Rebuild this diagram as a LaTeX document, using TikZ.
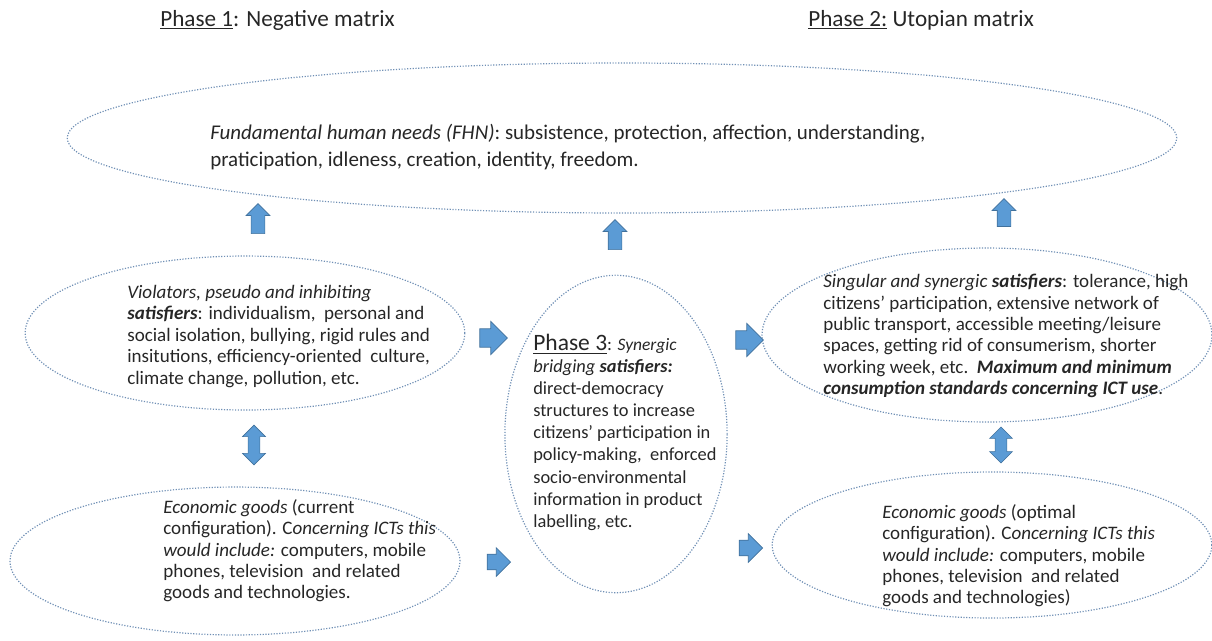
\documentclass[tikz,border=0pt]{standalone}
\usepackage{fontspec}
\setmainfont{Carlito}
\usetikzlibrary{shapes.geometric,shapes.arrows}
\definecolor{arrowblue}{HTML}{5B9BD5}
\definecolor{arrowedge}{HTML}{41719C}
\definecolor{rimblue}{HTML}{7090B5}
\definecolor{ink}{HTML}{262626}

\begin{document}
\begin{tikzpicture}[x=0.63pt,y=-0.63pt]
      \tikzset{bubble/.style={draw=rimblue, densely dotted, line width=0.75pt, ellipse, inner sep=0pt},
               blurb/.style={anchor=north west, inner sep=0pt, align=left, text=ink, font=\fontsize{12}{13.5}\selectfont},
               heading/.style={anchor=west, inner sep=0pt, text=ink, font=\fontsize{14.6}{17}\selectfont},
               blockarrow/.style={single arrow, fill=arrowblue, draw=arrowedge, line width=0.4pt},
               uparrow/.style={blockarrow, shape border rotate=90, inner sep=4.1pt, minimum height=18.9pt, minimum width=14.5pt, single arrow head extend=3.2pt},
               bigright/.style={blockarrow, inner sep=5.6pt, minimum height=15pt, minimum width=20.8pt, single arrow head extend=4.7pt},
               smallright/.style={blockarrow, inner sep=4.7pt, minimum height=14.5pt, minimum width=17.6pt, single arrow head extend=4.1pt},
               twoway/.style={double arrow, fill=arrowblue, draw=arrowedge, line width=0.4pt, inner sep=3.5pt,
                 shape border rotate=90, minimum height=25pt, minimum width=14pt, double arrow head extend=3.5pt}}
      \useasboundingbox (0,0) rectangle (1212,640);
%% Headings
      \node[heading] (ph1) at (160,20) {\underline{Phase 1}: Negative matrix};
      \node[heading] (ph2) at (808,20) {\underline{Phase 2:} Utopian matrix};
%% Ellipses
      \node[bubble, minimum width=699pt, minimum height=94.5pt] (fhn) at (622,138) {};
      \node[bubble, minimum width=277pt, minimum height=97pt] (viol) at (245,333) {};
      \node[bubble, minimum width=140pt, minimum height=200pt] (bridge) at (616,434) {};
      \node[bubble, minimum width=283.5pt, minimum height=109.6pt] (sing) at (987,335) {};
      \node[bubble, minimum width=283.5pt, minimum height=93.2pt] (goodsnow) at (235,561) {};
      \node[bubble, minimum width=277pt, minimum height=92pt] (goodsopt) at (992,545) {};
%% Texts
      \node[blurb, font=\fontsize{13.2}{17}\selectfont] (fhntxt) at (210,124)
        {\textit{Fundamental human needs (FHN)}: subsistence, protection, affection, understanding,\\
         praticipation, idleness, creation, identity, freedom.};
      \node[blurb] (violtxt) at (127,285)
        {\textit{Violators, pseudo and inhibiting}\\
         \textbf{\textit{satisfiers}}: individualism,\ \ personal and\\
         social isolation, bullying, rigid rules and\\
         insitutions, efficiency-oriented\ \ culture,\\
         climate change, pollution, etc.};
      \node[blurb, font=\fontsize{11.6}{13.9}\selectfont] (bridgetxt) at (533,334)
        {{\fontsize{14.8}{17}\selectfont\underline{Phase 3}}: {\fontsize{11}{12}\selectfont\textit{Synergic}}\\
         \textit{bridging} \textbf{\textit{satisfiers:}}\\
         direct-democracy\\
         structures to increase\\
         citizens’ participation in\\
         policy-making,\ \ enforced\\
         socio-environmental\\
         information in product\\
         labelling,\ etc.};
      \node[blurb] (singtxt) at (823,274)
        {\textit{Singular and synergic} \textbf{\textit{satisfiers}}: tolerance, high\\
         citizens’ participation, extensive network of\\
         public transport, accessible meeting/leisure\\
         spaces, getting rid of consumerism, shorter\\
         working week, etc.\ \ \textbf{\textit{Maximum and minimum}}\\
         \textbf{\textit{consumption standards concerning ICT use}}.};
      \node[blurb] (nowtxt) at (163,499)
        {\textit{Economic goods} (current\\
         configuration). C\textit{oncerning ICTs this}\\
         \textit{would include:} computers, mobile\\
         phones, television\ \ and related\\
         goods and technologies.};
      \node[blurb] (opttxt) at (882,504)
        {\textit{Economic goods} (optimal\\
         configuration). C\textit{oncerning ICTs this}\\
         \textit{would include:} computers, mobile\\
         phones, television\ \ and related\\
         goods and technologies)};
%Arrows
      \node[uparrow] (up1) at (258,222) {};
      \node[uparrow] (up2) at (615,238) {};
      \node[uparrow, minimum height=17.6pt] (up3) at (1004,216) {};
      \node[bigright] (r1) at (489,338) {};
      \node[smallright] (r2) at (495,562) {};
      \node[bigright] (r3) at (745,340) {};
      \node[smallright] (r4) at (747,548) {};
      \node[twoway] (dbl1) at (254,445) {};
      \node[twoway, minimum height=22.7pt] (dbl2) at (1001,445) {};
\end{tikzpicture}
\end{document}
